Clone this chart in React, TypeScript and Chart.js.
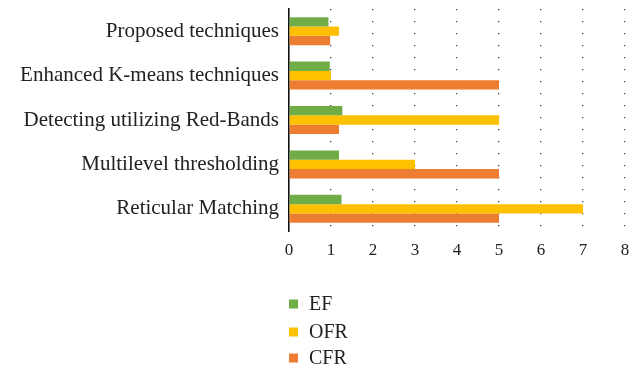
import React, { useEffect, useRef } from "react";
import { Chart, registerables } from "chart.js";

Chart.register(...registerables);

const categories = [
  "Proposed techniques",
  "Enhanced K-means techniques",
  "Detecting utilizing Red-Bands",
  "Multilevel thresholding",
  "Reticular Matching",
];
const seriesNames = ["EF", "OFR", "CFR"];
const efValues = [0.94, 0.97, 1.27, 1.19, 1.25];
const ofrValues = [1.19, 1.0, 5, 3, 7];
const cfrValues = [0.98, 5, 1.19, 5, 5];
const xTicks = [0, 1, 2, 3, 4, 5, 6, 7, 8];
const colors = ["#70AD47", "#FFC000", "#ED7D31"];

const FONT = "'Liberation Serif', 'DejaVu Serif', serif";

const legendPlugin = {
  id: "vertLegend",
  afterDraw(chart: any) {
    const ctx = chart.ctx;
    ctx.save();
    ctx.font = `20px ${FONT}`;
    ctx.textBaseline = "middle";
    ctx.textAlign = "left";
    const x0 = 289;
    const ys = [304, 332, 358];
    chart.data.datasets.forEach((ds: any, i: number) => {
      const y = ys[i];
      ctx.fillStyle = ds.backgroundColor;
      ctx.fillRect(x0, y - 4.5, 9, 9);
      ctx.fillStyle = "#222";
      ctx.fillText(ds.label, x0 + 20, y + 1);
    });
    ctx.restore();
  },
};

export default function App() {
  const ref = useRef<HTMLCanvasElement | null>(null);
  useEffect(() => {
    if (!ref.current) return;
    const data = [efValues, ofrValues, cfrValues];
    const chart = new Chart(ref.current, {
      type: "bar",
      data: {
        labels: categories,
        datasets: seriesNames.map((name, i) => ({
          label: name,
          data: data[i],
          backgroundColor: colors[i],
          borderWidth: 0,
          barPercentage: 1,
          categoryPercentage: 0.63,
        })),
      },
      options: {
        indexAxis: "y",
        animation: false,
        responsive: false,
        maintainAspectRatio: false,
        layout: { padding: { left: 0, right: 15, top: 9, bottom: 105 } },
        plugins: {
          legend: { display: false },
          tooltip: { enabled: false },
        },
        scales: {
          x: {
            min: 0,
            max: 8,
            afterFit: (s: any) => {
              s.height = 30;
              s.paddingLeft = 0;
              s.paddingRight = 0;
            },
            afterBuildTicks: (s: any) => {
              s.ticks = xTicks.map((v) => ({ value: v }));
            },
            grid: {
              color: (c: any) => (c.tick && c.tick.value === 0 ? "rgba(0,0,0,0)" : "#444"),
              lineWidth: 1.3,
              drawTicks: false,
            },
            border: { display: false, dash: [1.3, 10.7] },
            ticks: {
              padding: 9,
              color: "#222",
              font: { family: FONT, size: 17 },
            },
          },
          y: {
            afterFit: (s: any) => {
              s.width = 289;
              s.paddingTop = 0;
              s.paddingBottom = 0;
            },
            grid: { display: false, drawTicks: false },
            border: { display: true, color: "#111", width: 1.6 },
            ticks: {
              padding: 10,
              color: "#222",
              font: { family: FONT, size: 21 },
            },
          },
        },
      },
      plugins: [legendPlugin],
    });
    return () => chart.destroy();
  }, []);
  return (
    <div style={{ position: "fixed", left: 0, top: 0, width: 640, height: 366, background: "#fff" }}>
      <canvas ref={ref} width={640} height={366} style={{ width: 640, height: 366 }} />
    </div>
  );
}
